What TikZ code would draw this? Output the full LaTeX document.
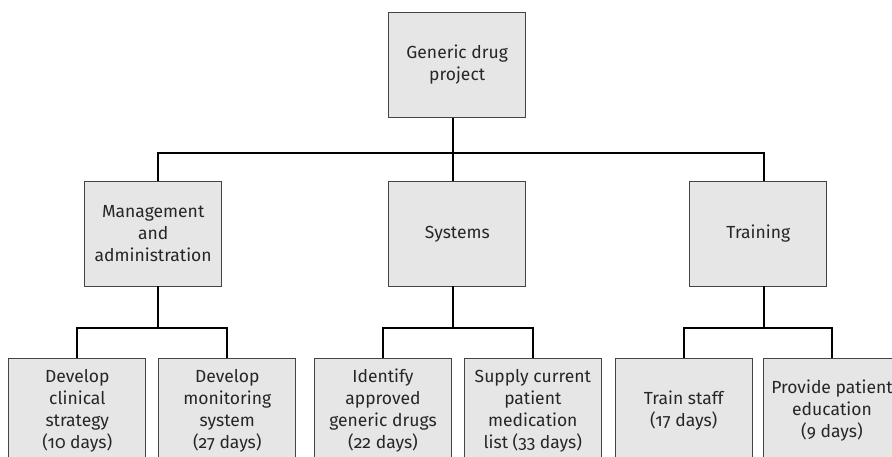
\documentclass[tikz,border=0pt]{standalone}
\usepackage{fontspec}
\setmainfont{Fira Sans}[Numbers=OldStyle]
\usetikzlibrary{calc}
\definecolor{boxfill}{HTML}{E6E6E6}
\definecolor{boxline}{HTML}{444444}
\begin{document}
\begin{tikzpicture}[x=1pt,y=-1pt,
  wbs/.style={draw=boxline,fill=boxfill,line width=0.9pt,minimum width=137pt,minimum height=104.5pt,
    inner sep=0pt,align=center,font=\fontsize{17.5}{22}\selectfont,text=black!85},
  conn/.style={line width=2pt,black}]
\useasboundingbox (0,0) rectangle (892,457);
\clip (0,0) rectangle (892,457);
% nodes
\node[wbs] (top) at (457.2,65) {Generic drug\\project};
\node[wbs] (mgmt) at (153.2,233.8) {Management\\and\\administration};
\node[wbs] (sys) at (457.3,233.8) {Systems};
\node[wbs] (trn) at (758.3,233.8) {Training};
\node[wbs,anchor=north] (a) at (77.3,357.7) {Develop\\clinical\\strategy\\(10 days)};
\node[wbs,anchor=north] (b) at (227.3,357.7) {Develop\\monitoring\\system\\(27 days)};
\node[wbs,anchor=north] (c) at (383,357.7) {Identify\\approved\\generic drugs\\(22 days)};
\node[wbs,anchor=north] (d) at (532.8,357.7) {Supply current\\patient\\medication\\list (33 days)};
\node[wbs,anchor=north] (e) at (683.7,357.7) {Train staff\\(17 days)};
\node[wbs,anchor=north] (f) at (832,357.7) {Provide patient\\education\\(9 days)};
% junction coordinates
\coordinate (topj) at ($(top.south)+(-4,0)$);
\coordinate (mgmtj) at ($(mgmt.north)+(4.5,0)$);
\coordinate (sysj) at ($(sys.north)+(-4,0)$);
\coordinate (trnj) at ($(trn.north)+(6,0)$);
\coordinate (mgmtb) at ($(mgmt.south)+(4.5,0)$);
\coordinate (sysb) at ($(sys.south)+(-4,0)$);
\coordinate (trnb) at ($(trn.south)+(6,0)$);
% level 1 to 2
\draw[conn] (topj) -- (topj |- 0,153.3);
\draw[conn] (mgmtj) -- (mgmtj |- 0,153.3) -| (trnj);
\draw[conn] (sysj) -- (sysj |- 0,153.3);
% level 2 to 3
\draw[conn] (mgmtb) -- (mgmtb |- 0,328.3);
\draw[conn] (a.north) |- (b.north |- 0,328.3) -- (b.north);
\draw[conn] (sysb) -- (sysb |- 0,328.3);
\draw[conn] (c.north) |- (d.north |- 0,328.3) -- (d.north);
\draw[conn] (trnb) -- (trnb |- 0,328.3);
\draw[conn] (e.north) |- (f.north |- 0,328.3) -- (f.north);
\end{tikzpicture}
\end{document}
